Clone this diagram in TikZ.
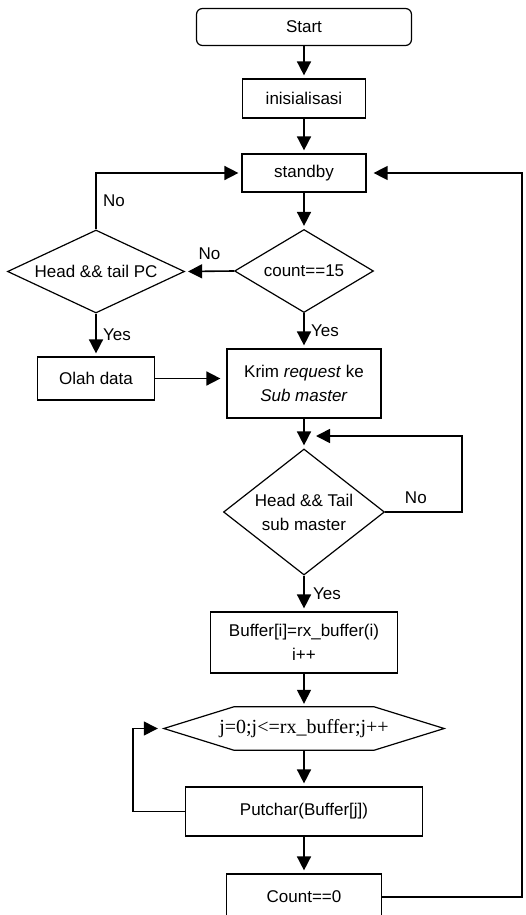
\documentclass[tikz,border=0pt]{standalone}
\usepackage{fontspec}
\setmainfont{Liberation Sans}
\newfontfamily\loopfont{Liberation Serif}
\usetikzlibrary{arrows.meta,shapes.geometric,calc}

\begin{document}
\begin{tikzpicture}
  [x = 1pt, y = -1pt, >= {Triangle[length = 14pt, width = 14pt]},
   font = \fontsize{17}{24}\selectfont,
   box/.style = {draw, line width = 1.2pt, inner sep = 0pt, align = center},
   decision/.style = {draw, diamond, line width = 1.2pt, inner sep = 0pt, align = center},
   flow/.style = {->, line width = 1.6pt, shorten > = 3pt}]
  \useasboundingbox (0,0) rectangle (525,915);
  \node[box, rounded corners = 6pt, minimum width = 215pt, minimum height = 37pt] (start) at (304,27) {Start};
  \node[box, minimum width = 123pt, minimum height = 39pt] (init) at (304,98.5) {inisialisasi};
  \node[box, minimum width = 124pt, minimum height = 38pt] (standby) at (304,173) {standby};
  \node[decision, aspect = 1.67, minimum width = 139pt, minimum height = 83pt] (count) at (304,271) {count==15};
  \node[decision, aspect = 2.13, minimum width = 177pt, minimum height = 83pt] (pc) at (96,271.5) {Head \&\& tail PC};
  \node[box, minimum width = 117pt, minimum height = 43pt] (olah) at (96,378.5) {Olah data};
  \node[box, minimum width = 154pt, minimum height = 69pt] (krim) at (304,383.5) {Krim \textit{request} ke\\\textit{Sub master}};
  \node[decision, aspect = 1.28, minimum width = 161pt, minimum height = 126pt] (sub) at (304,512) {Head \&\& Tail\\sub master};
  \node[box, minimum width = 187pt, minimum height = 61pt] (buf) at (304,642.5) {Buffer[i]=rx\_buffer(i)\\i++};
  \node[minimum width = 280pt, minimum height = 43pt, inner sep = 0pt,
        font = \loopfont\fontsize{20}{24}\selectfont] (forj) at (304,728.5) {j=0;j<=rx\_buffer;j++};
  \node[box, minimum width = 237pt, minimum height = 49pt] (put) at (304,811.5) {Putchar(Buffer[j])};
  \node[box, minimum width = 155pt, minimum height = 46pt] (cnt) at (304,897) {Count==0};
  \draw[line width = 1.2pt] ($(forj.north west)+(70,0)$) -- ($(forj.north east)+(-70,0)$)
    -- (forj.east) -- ($(forj.south east)+(-70,0)$) -- ($(forj.south west)+(70,0)$)
    -- (forj.west) -- cycle;
  \coordinate (ret) at (522,897);
  \coordinate (subloop) at (462,436);
  \coordinate (merge) at (304,436);
  \coordinate (putloop) at (133,811.5);
  \draw[flow] (start) -- (init);
  \draw[flow] (init) -- (standby);
  \draw[flow] (standby) -- (count);
  \draw[flow] (count.west) -- node[above = 7pt]{No} (pc.east);
  \draw[flow] (pc.north) |- node[pos = 0.25, right = 3pt]{No} (standby.west);
  \draw[flow] (pc.south) -- node[right = 3pt]{Yes} (olah.north);
  \draw[flow] (count.south) -- node[right = 3pt]{Yes} (krim.north);
  \draw[flow, shorten > = 6pt] (olah.east) -- (olah.east -| krim.west);
  \draw[flow] (krim.south) -- (sub.north);
  \draw[flow, shorten > = 12pt] (sub.east) -| node[pos = 0.2, above = 4pt]{No} (subloop) -- (merge);
  \draw[flow] (sub.south) -- node[right = 5pt]{Yes} (buf.north);
  \draw[flow] (buf.south) -- (forj.north);
  \draw[flow] (forj.south) -- (put.north);
  \draw[flow, line width = 1.3pt, shorten > = 6pt] (put.west) -- (putloop) |- (forj.west);
  \draw[flow] (put.south) -- (cnt.north);
  \draw[flow, line width = 1.3pt, shorten > = 7pt] (cnt.east) -- (ret) |- (standby.east);
\end{tikzpicture}
\end{document}
